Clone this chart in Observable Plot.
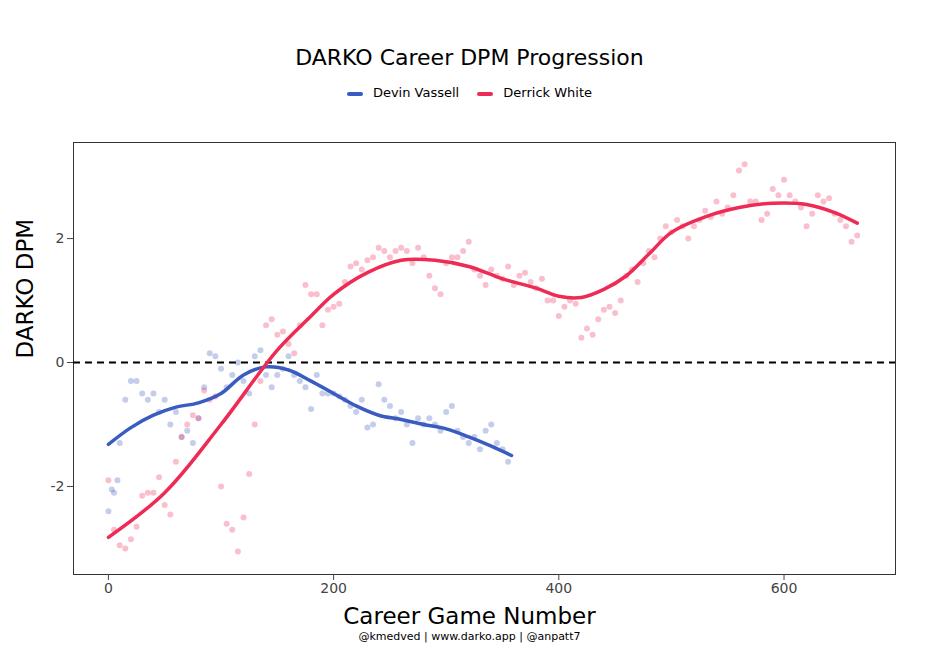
<!DOCTYPE html>
<html><head><meta charset="utf-8">
<script src="https://cdn.jsdelivr.net/npm/d3@7"></script>
<script src="https://cdn.jsdelivr.net/npm/@observablehq/plot@0.6"></script>
<style>
body{margin:0;background:#fff;font-family:"DejaVu Sans",sans-serif;}
#wrap{position:relative;width:939px;height:665px;}
.ov{position:absolute;left:0;width:939px;text-align:center;color:#000;}
</style></head><body>
<div id="wrap">
<div class="ov" style="top:45px;font-size:22px;">DARKO Career DPM Progression</div>
<div class="ov" style="top:85px;font-size:13px;">
<span style="display:inline-block;width:16px;height:4px;background:#3a5bbf;border-radius:2px;vertical-align:middle;margin-right:10px"></span>Devin Vassell
<span style="display:inline-block;width:16px;height:4px;background:#ee2b55;border-radius:2px;vertical-align:middle;margin:0 10px 0 14px"></span>Derrick White</div>
<div class="ov" style="top:603px;font-size:23px;">Career Game Number</div>
<div class="ov" style="top:630px;font-size:11px;">@kmedved | www.darko.app | @anpatt7</div>
<div id="chart"></div>
</div>
<script>
const vassellGames = [0,3,5,8,10,15,20,25,30,35,40,45,50,55,60,65,70,75,80,85,90,95,100,105,110,115,120,125,130,135,140,145,150,155,160,165,170,175,180,185,190,195,200,205,210,215,220,225,230,235,240,245,250,255,260,265,270,275,280,285,290,295,300,305,310,315,320,325,330,335,340,345,350,355];
const vassellDpm = [-2.4,-2.05,-2.1,-1.9,-1.3,-0.6,-0.3,-0.3,-0.5,-0.6,-0.5,-0.8,-0.6,-1.0,-0.8,-1.2,-1.1,-1.3,-0.9,-0.4,0.15,0.1,-0.1,-0.4,-0.2,0.0,-0.3,-0.5,0.1,0.2,-0.2,-0.4,-0.2,-0.1,0.1,-0.2,-0.3,-0.4,-0.75,-0.2,-0.5,-0.5,-0.5,-0.55,-0.6,-0.7,-0.8,-0.6,-1.05,-1.0,-0.35,-0.6,-0.7,-0.9,-0.8,-1.0,-1.3,-0.9,-1.0,-0.9,-1.0,-1.1,-0.8,-0.7,-1.1,-1.2,-1.3,-1.2,-1.4,-1.1,-1.0,-1.3,-1.4,-1.6];
const vassellSmoothGames = [0,20,40,60,80,100,120,140,160,180,200,220,240,260,280,300,320,340,358];
const vassellSmooth = [-1.32,-1.05,-0.85,-0.72,-0.65,-0.5,-0.2,-0.07,-0.12,-0.3,-0.5,-0.7,-0.85,-0.92,-1.0,-1.07,-1.2,-1.35,-1.5];
const whiteGames = d3.range(0,666,5);
const whiteDpm = [-1.9,-2.7,-2.95,-3.0,-2.85,-2.65,-2.15,-2.1,-2.1,-1.85,-2.3,-2.45,-1.6,-1.2,-1.0,-0.85,-0.9,-0.45,-0.6,-0.55,-2.0,-2.6,-2.7,-3.05,-2.5,-1.8,-1.0,-0.3,0.6,0.7,0.45,0.5,0.3,0.15,0.6,1.25,1.1,1.1,0.6,0.85,0.9,0.95,1.3,1.55,1.6,1.5,1.65,1.7,1.85,1.8,1.7,1.8,1.85,1.8,1.6,1.85,1.7,1.4,1.2,1.1,1.6,1.7,1.7,1.8,1.95,1.5,1.4,1.25,1.5,1.4,1.35,1.55,1.25,1.4,1.45,1.3,1.2,1.35,1.0,1.0,0.75,0.9,1.0,0.95,0.4,0.55,0.45,0.7,0.85,0.9,0.8,1.0,1.4,1.5,1.3,1.6,1.8,1.7,2.0,2.2,2.1,2.3,2.2,2.0,2.2,2.3,2.45,2.35,2.6,2.4,2.5,2.7,3.1,3.2,2.6,2.6,2.3,2.4,2.8,2.7,2.95,2.7,2.6,2.5,2.2,2.4,2.7,2.6,2.65,2.4,2.3,2.2,1.95,2.05];
const whiteSmoothGames = [0,50,100,150,180,200,230,260,290,320,350,380,400,420,440,460,480,500,530,560,590,620,645,665];
const whiteSmooth = [-2.82,-2.1,-1.0,0.2,0.75,1.1,1.45,1.65,1.65,1.55,1.35,1.2,1.07,1.05,1.18,1.4,1.75,2.1,2.35,2.5,2.57,2.55,2.42,2.25];

const blue="#3a5bbf", red="#ee2b55";
const vPts = vassellGames.map((g,i)=>({g,v:vassellDpm[i]}));
const wPts = whiteGames.map((g,i)=>({g,v:whiteDpm[i]})).filter(d=>d.v!==undefined);
const vS = vassellSmoothGames.map((g,i)=>({g,v:vassellSmooth[i]}));
const wS = whiteSmoothGames.map((g,i)=>({g,v:whiteSmooth[i]}));

const chart = Plot.plot({
  width:939,height:665,marginLeft:73,marginRight:44,marginTop:142,marginBottom:91,
  style:{fontFamily:"DejaVu Sans",fontSize:"14px",color:"#444"},
  x:{domain:[-31,699],ticks:[0,200,400,600],label:null,tickSize:4},
  y:{domain:[-3.42,3.55],ticks:[-2,0,2],label:null,tickSize:4,tickFormat:d=>d<0?"-"+Math.abs(d):d},
  marks:[
    Plot.frame({stroke:"#333"}),
    Plot.ruleY([0],{stroke:"#000",strokeWidth:2,strokeDasharray:"7,5"}),
    Plot.dot(vPts,{x:"g",y:"v",r:3,fill:blue,fillOpacity:0.3,stroke:null}),
    Plot.dot(wPts,{x:"g",y:"v",r:3,fill:red,fillOpacity:0.3,stroke:null}),
    Plot.line(vS,{x:"g",y:"v",stroke:blue,strokeWidth:3.5,curve:"catmull-rom"}),
    Plot.line(wS,{x:"g",y:"v",stroke:red,strokeWidth:3.5,curve:"catmull-rom"}),
    Plot.axisX({ticks:[0,200,400,600],label:null,fontSize:14}),
    Plot.axisY({ticks:[-2,0,2],label:null,fontSize:14,tickFormat:d=>d}),
    Plot.text(["DARKO DPM"],{frameAnchor:"left",dx:-48,rotate:-90,fontSize:23,fill:"#000"})
  ]
});
document.getElementById("chart").appendChild(chart);
</script></body></html>
